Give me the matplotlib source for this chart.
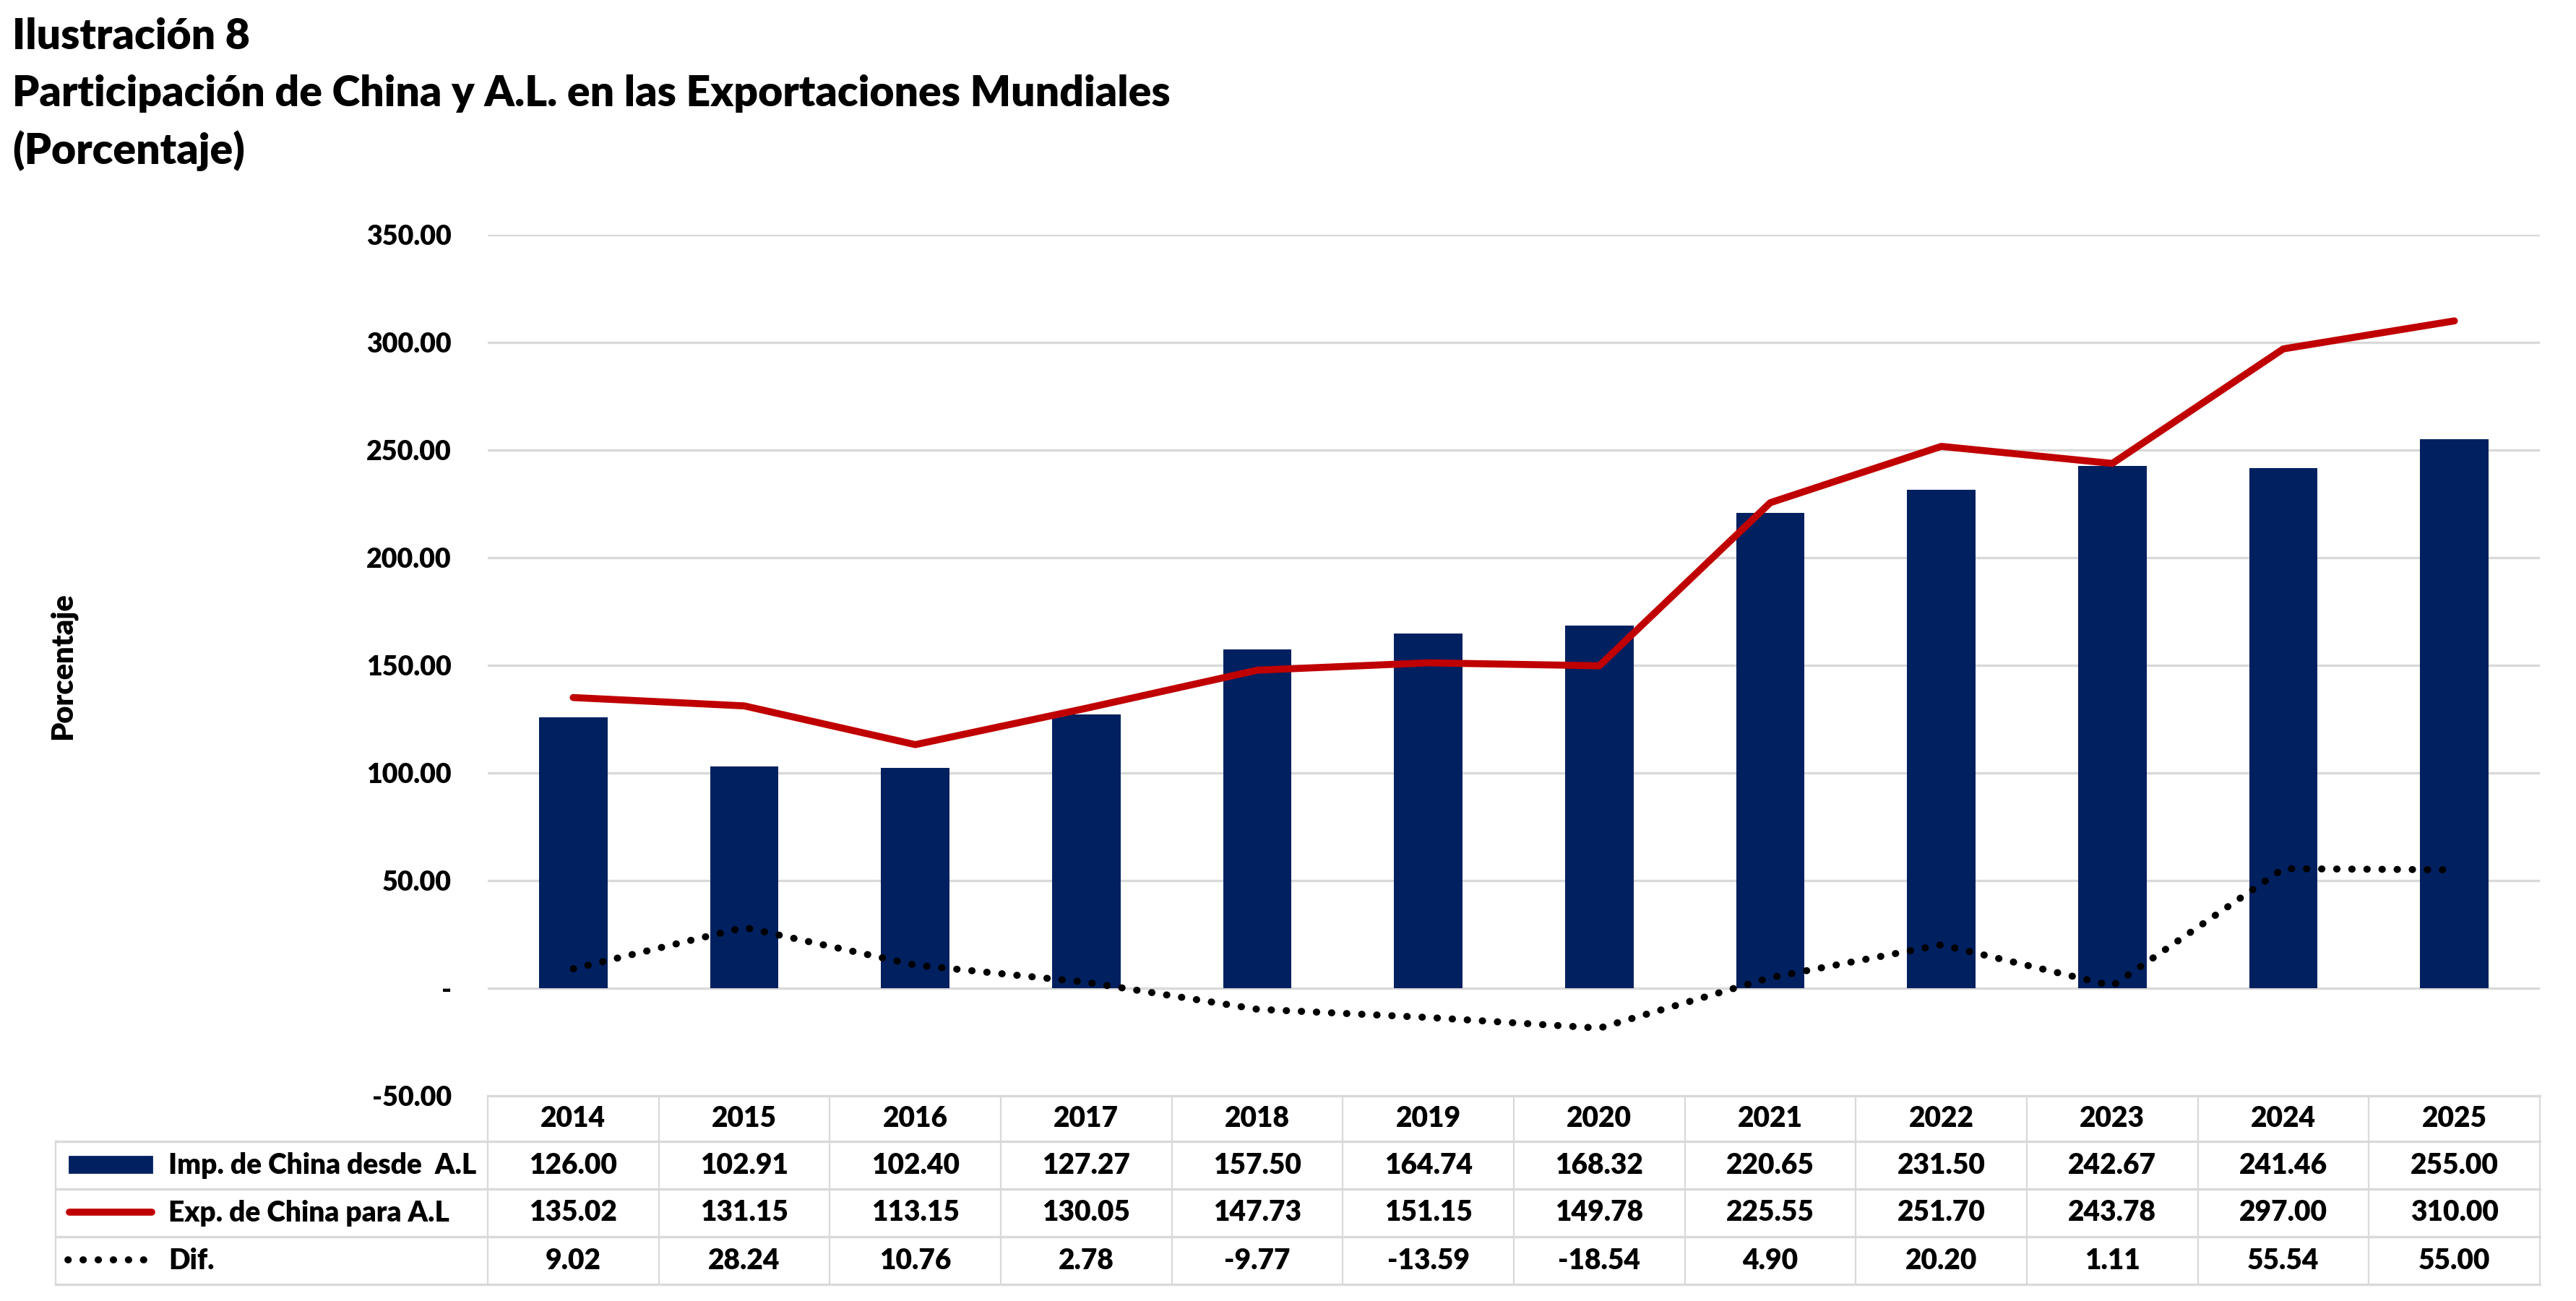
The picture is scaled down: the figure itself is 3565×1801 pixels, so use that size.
import matplotlib
matplotlib.use("Agg")
import matplotlib.pyplot as plt
import matplotlib.transforms as mtransforms
from matplotlib.lines import Line2D
from matplotlib.patches import Rectangle

years = ["2014", "2015", "2016", "2017", "2018", "2019", "2020", "2021", "2022", "2023", "2024", "2025"]
imports_al = [126.00, 102.91, 102.40, 127.27, 157.50, 164.74, 168.32, 220.65, 231.50, 242.67, 241.46, 255.00]
exports_al = [135.02, 131.15, 113.15, 130.05, 147.73, 151.15, 149.78, 225.55, 251.70, 243.78, 297.00, 310.00]
diff_vals = [9.02, 28.24, 10.76, 2.78, -9.77, -13.59, -18.54, 4.90, 20.20, 1.11, 55.54, 55.00]
series_names = ["Imp. de China desde  A.L", "Exp. de China para A.L", "Dif."]
y_ticks = [-50, 0, 50, 100, 150, 200, 250, 300, 350]

NAVY = "#002060"
RED = "#C00000"
GRID = "#D9D9D9"
FONT = "Lato"
WEIGHT = "heavy"

W, H = 3566, 1801
DPI = 200
fig = plt.figure(figsize=(W / DPI, H / DPI), dpi=DPI)

def fx(px):
    return px / W

def fy(py):
    return 1 - py / H

ax_left, ax_right, ax_top, ax_bot = 675, 3515, 325, 1517
ax = fig.add_axes([fx(ax_left), fy(ax_bot), fx(ax_right) - fx(ax_left), fy(ax_top) - fy(ax_bot)])

LW = 3.5
DOT = (0, (0.05, 2.1))
x = list(range(len(years)))
ax.bar(x, imports_al, width=0.40, color=NAVY, zorder=2)
ax.plot(x, exports_al, color=RED, lw=LW, solid_capstyle="round", solid_joinstyle="round", zorder=3)
ax.plot(x, diff_vals, color="black", lw=LW, linestyle=DOT, dash_capstyle="round", zorder=3)

ax.set_xlim(-0.5, len(years) - 0.5)
ax.set_ylim(-50, 350)
ax.set_yticks(y_ticks)
ax.set_yticklabels(["-" if v == 0 else f"{v:.2f}" for v in y_ticks], fontfamily=FONT, fontweight=WEIGHT, fontsize=13.5)
ax.tick_params(axis="y", length=0, pad=18)
ax.set_xticks([])
for s in ax.spines.values():
    s.set_visible(False)
for v in y_ticks:
    if v > -50:
        ax.axhline(v, color=GRID, lw=1.2, zorder=1)

# y label
fig.text(fx(87), fy(922), "Porcentaje", rotation=90, ha="center", va="center",
         fontfamily=FONT, fontweight=WEIGHT, fontsize=15)

# titles
titles = ["Ilustración 8", "Participación de China y A.L. en las Exportaciones Mundiales", "(Porcentaje)"]
for t, base in zip(titles, [68, 147, 227]):
    fig.text(fx(17), fy(base), t, ha="left", va="baseline", fontfamily=FONT, fontweight=WEIGHT, fontsize=21.2)

# data table
blend = mtransforms.blended_transform_factory(ax.transData, fig.transFigure)
t_top, rows_y = 1517, [1580, 1646, 1712, 1778]
leg_left = 77
lw_h, lw_v = 1.2, 0.8

fig.add_artist(Line2D([fx(ax_left), fx(ax_right)], [fy(t_top)] * 2, color=GRID, lw=lw_h, transform=fig.transFigure))
for ry in rows_y:
    fig.add_artist(Line2D([fx(leg_left), fx(ax_right)], [fy(ry)] * 2, color=GRID, lw=lw_h, transform=fig.transFigure))
fig.add_artist(Line2D([fx(leg_left)] * 2, [fy(rows_y[0]), fy(rows_y[-1])], color=GRID, lw=lw_v, transform=fig.transFigure))
for i in range(len(years) + 1):
    fig.add_artist(Line2D([i - 0.5] * 2, [fy(t_top), fy(rows_y[-1])], color=GRID, lw=lw_v, transform=blend))

txt_kw = dict(ha="center", va="center", fontfamily=FONT, fontweight=WEIGHT, fontsize=14)
header_c = (t_top + rows_y[0]) / 2
row_c = [(rows_y[k] + rows_y[k + 1]) / 2 for k in range(3)]
for i, yr in enumerate(years):
    fig.text(i, fy(header_c), yr, transform=blend, **txt_kw)
for k, vals in enumerate([imports_al, exports_al, diff_vals]):
    for i, v in enumerate(vals):
        fig.text(i, fy(row_c[k]), f"{v:.2f}", transform=blend, **txt_kw)

# legend keys
fig.add_artist(Rectangle((fx(96), fy(1623)), fx(210) - fx(96), fy(1601) - fy(1623), color=NAVY, transform=fig.transFigure))
fig.add_artist(Line2D([fx(96), fx(210)], [fy(1678)] * 2, color=RED, lw=LW, solid_capstyle="round", transform=fig.transFigure))
fig.add_artist(Line2D([fx(94), fx(200)], [fy(1744)] * 2, color="black", lw=LW, linestyle=DOT,
                      dash_capstyle="round", transform=fig.transFigure))
for k, name in enumerate(series_names):
    fig.text(fx(233), fy(row_c[k]), name, ha="left", va="center", fontfamily=FONT, fontweight=WEIGHT, fontsize=14)

fig.savefig("out.png", dpi=DPI, facecolor="white")
